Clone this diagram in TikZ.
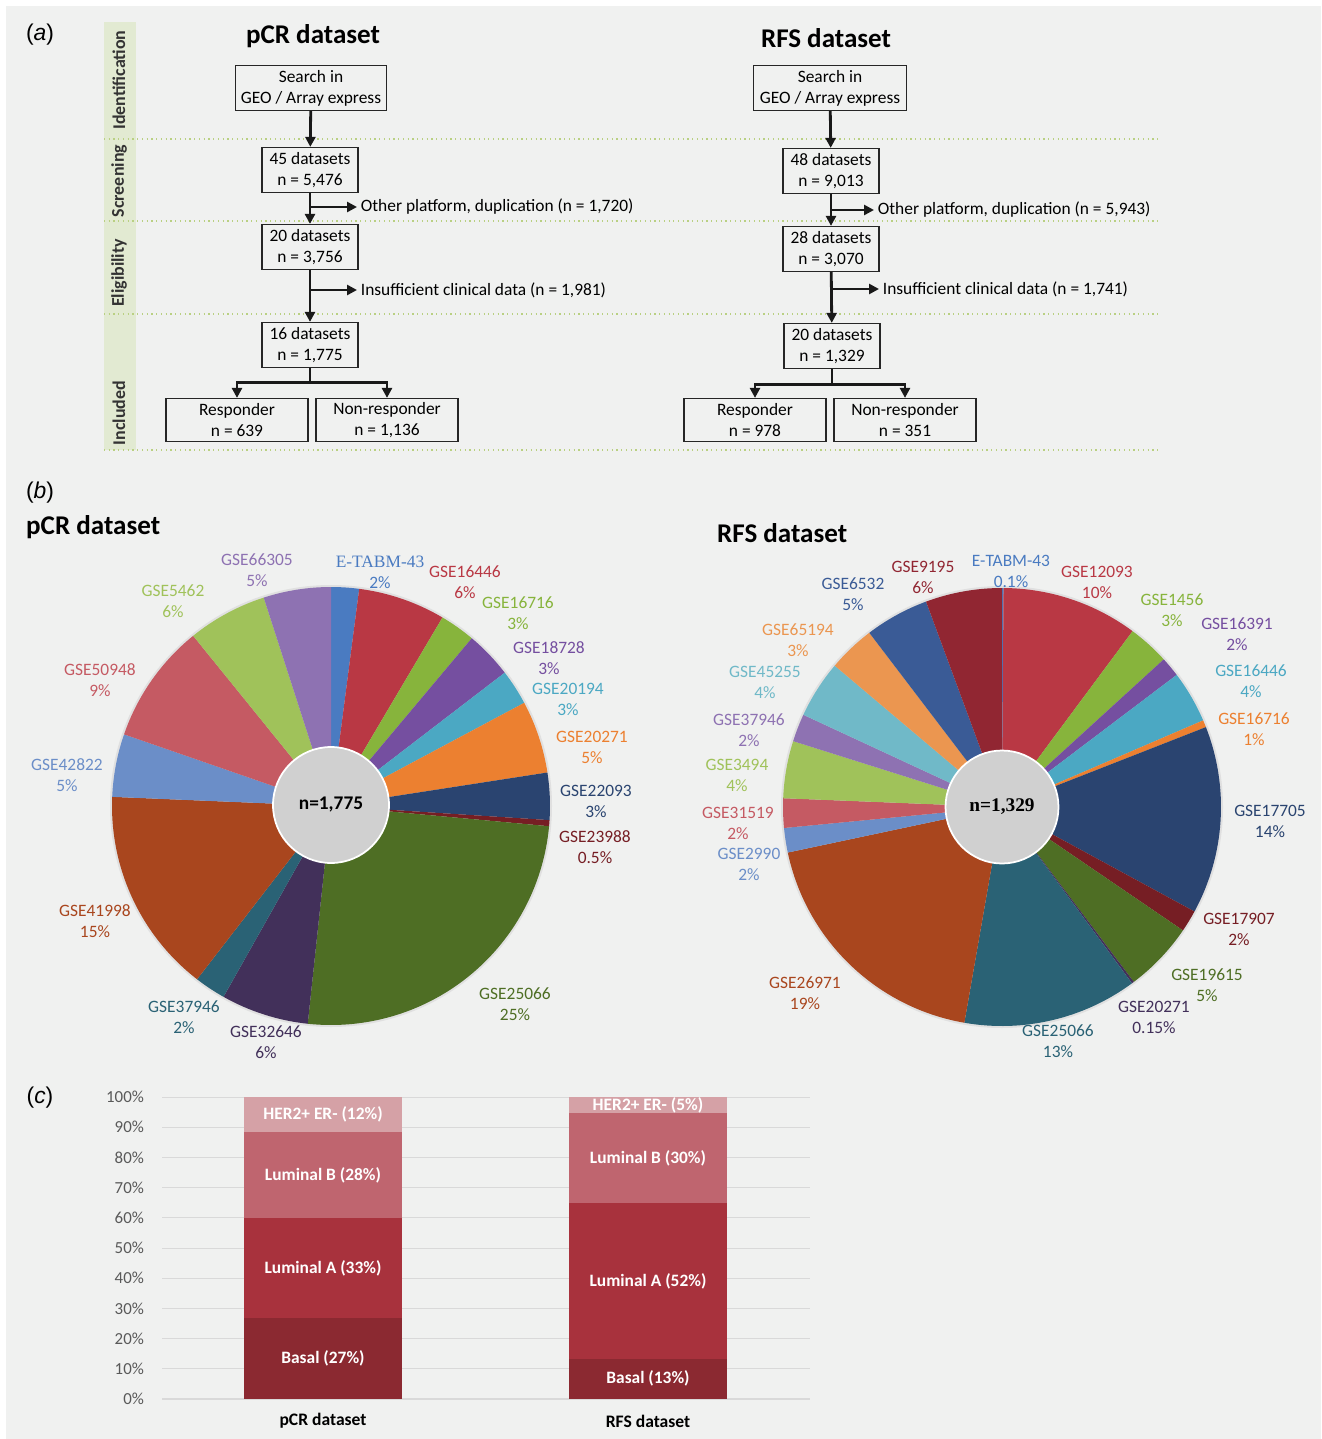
\documentclass[tikz,border=0pt]{standalone}
\usepackage{fontspec}
\setmainfont{Carlito}
\newfontfamily\arialfont{Liberation Sans}
\newfontfamily\timesfont{Liberation Serif}
\usetikzlibrary{arrows.meta, positioning}

\definecolor{bggray}{RGB}{240,241,240}
\definecolor{bandgreen}{RGB}{226,234,210}
\definecolor{dotgreen}{RGB}{185,208,130}
\definecolor{hubgray}{RGB}{208,208,208}
\definecolor{gridgray}{RGB}{217,217,217}
\definecolor{tickgray}{RGB}{89,89,89}
% slice colours
\definecolor{cBlue}{RGB}{74,123,193}
\definecolor{cRed}{RGB}{185,56,68}
\definecolor{cGreen}{RGB}{135,180,60}
\definecolor{cPurple}{RGB}{117,79,160}
\definecolor{cTeal}{RGB}{75,168,195}
\definecolor{cOrange}{RGB}{236,128,48}
\definecolor{cNavy}{RGB}{42,68,112}
\definecolor{cDRed}{RGB}{118,30,36}
\definecolor{cDGreen}{RGB}{78,110,36}
\definecolor{cDPurple}{RGB}{66,48,90}
\definecolor{cDTeal}{RGB}{42,98,117}
\definecolor{cBrown}{RGB}{169,70,30}
\definecolor{cMBlue}{RGB}{107,142,200}
\definecolor{cPink}{RGB}{197,90,99}
\definecolor{cLGreen}{RGB}{160,194,90}
\definecolor{cLav}{RGB}{142,114,178}
\definecolor{cLTeal}{RGB}{112,185,200}
\definecolor{cLOrange}{RGB}{235,150,80}
\definecolor{cSBlue}{RGB}{58,91,150}
\definecolor{cWine}{RGB}{145,38,50}
% subtype colours
\definecolor{cBasal}{RGB}{139,41,49}
\definecolor{cLumA}{RGB}{168,50,61}
\definecolor{cLumB}{RGB}{191,101,111}
\definecolor{cHer}{RGB}{213,161,166}

\begin{document}
\begin{tikzpicture}[
    x=0.02cm, y=-0.02cm,
    box/.style={draw=black!85, line width=0.7pt, rectangle, align=center, minimum height=0.9cm, minimum width=1.92cm, inner sep=0pt, font=\fontsize{9.9}{11.9}\selectfont},
    widebox/.style={box, minimum width=3.02cm},
    endbox/.style={box, minimum width=2.84cm, minimum height=0.86cm},
    exclnote/.style={anchor=west, inner sep=2pt, font=\fontsize{9.9}{11.9}\selectfont},
    arrow/.style={-{Triangle[length=0.2cm, width=0.2cm]}, line width=1.6pt, draw=black!90},
    phase/.style={rotate=90, text=black!80, font=\fontsize{10.2}{12}\selectfont\bfseries},
    title/.style={font=\fontsize{15.4}{18}\selectfont\bfseries},
    panel/.style={font=\arialfont\fontsize{13}{15}\selectfont},
    pielbl/.style={align=center, font=\fontsize{9.9}{12}\selectfont},
    hub/.style={circle, fill=hubgray, draw=white, line width=1pt, inner sep=0pt, font=\fontsize{11}{13}\selectfont\bfseries},
    gridline/.style={draw=gridgray, line width=0.6pt},
    ticklbl/.style={anchor=east, inner sep=1pt, text=tickgray, font=\fontsize{9.6}{11}\selectfont},
    seglbl/.style={text=white, font=\fontsize{9.9}{11}\selectfont\bfseries},
    axislbl/.style={font=\fontsize{10}{12}\selectfont\bfseries}
]

% Background
\useasboundingbox (0,0) rectangle (1321,1439);
\fill[white] (0,0) rectangle (1321,1439);
\fill[bggray] (6,6) rectangle (1321,1439);

% ---------------- (a) flow charts ----------------
\node (pa) [panel] at (40,35) {(\textit{a})};

% Phase band
\fill[bandgreen] (104,22) rectangle (136,450);
\foreach \yy in {139,221,314,450}
  \draw[dotgreen, dotted, line width=0.7pt] (104,\yy) -- (1160,\yy);
\node (ph1) [phase] at (119,80) {Identification};
\node (ph2) [phase] at (119,181) {Screening};
\node (ph3) [phase] at (119,273) {Eligibility};
\node (ph4) [phase] at (119,413) {Included};

% pCR nodes
\node (ttl1) [title] at (313,36) {pCR dataset};
\node (srch1) [widebox] at (311,88) {Search in\\GEO / Array express};
\node (ds1a) [box] at (310,170) {45 datasets\\n = 5,476};
\node (ds1b) [box] at (310,247) {20 datasets\\n = 3,756};
\node (ds1c) [box] at (310,345) {16 datasets\\n = 1,775};
\node (resp1) [endbox] at (237,420) {Responder\\n = 639};
\node (nonr1) [endbox] at (387,420) {Non-responder\\n = 1,136};
\node (ex1a) [exclnote] at (357,207) {Other platform, duplication (n = 1,720)};
\node (ex1b) [exclnote] at (357,290) {Insufficient clinical data (n = 1,981)};

% RFS nodes
\node (ttl2) [title] at (826,38) {RFS dataset};
\node (srch2) [widebox, minimum width=3.06cm] at (830,88) {Search in\\GEO / Array express};
\node (ds2a) [box] at (831,171) {48 datasets\\n = 9,013};
\node (ds2b) [box] at (831,249) {28 datasets\\n = 3,070};
\node (ds2c) [box] at (832,346) {20 datasets\\n = 1,329};
\node (resp2) [endbox] at (755,420) {Responder\\n = 978};
\node (nonr2) [endbox] at (905,420) {Non-responder\\n = 351};
\node (ex2a) [exclnote] at (874,210) {Other platform, duplication (n = 5,943)};
\node (ex2b) [exclnote] at (879,289) {Insufficient clinical data (n = 1,741)};

% Connections
\draw [arrow] (srch1) -- (ds1a);
\draw [arrow] (ds1a) -- (ds1b);
\draw [arrow] (ds1a.south |- ex1a.west) -- (ex1a.west);
\draw [arrow] (ds1b) -- (ds1c);
\draw [arrow] (ds1b.south |- ex1b.west) -- (ex1b.west);
\draw [arrow] (ds1c.south) -- ++(0,14) -| (resp1.north);
\draw [arrow] (ds1c.south) -- ++(0,14) -| (nonr1.north);

\draw [arrow] (srch2) -- (ds2a);
\draw [arrow] (ds2a) -- (ds2b);
\draw [arrow] (ds2a.south |- ex2a.west) -- (ex2a.west);
\draw [arrow] (ds2b) -- (ds2c);
\draw [arrow] (ds2b.south |- ex2b.west) -- (ex2b.west);
\draw [arrow] (ds2c.south) -- ++(0,15) -| (resp2.north);
\draw [arrow] (ds2c.south) -- ++(0,15) -| (nonr2.north);

% ---------------- (b) pie charts ----------------
\node (pb) [panel] at (40,493) {(\textit{b})};
\node (ttl3) [title, anchor=west] at (20,527) {pCR dataset};
\node (ttl4) [title, anchor=west] at (711,533) {RFS dataset};

% pCR pie
\begin{scope}[shift={(331,806)}, y=0.02cm]
  \fill[black!12] (0,0) circle (221);
  \foreach \a/\b/\c in {90/82.6/cBlue, 82.6/59.4/cRed, 59.4/50/cGreen, 50/37.5/cPurple,
      37.5/28.1/cTeal, 28.1/8.8/cOrange, 8.8/-3.7/cNavy, -3.7/-5.3/cDRed,
      -5.3/-96.1/cDGreen, -96.1/-119.4/cDPurple, -119.4/-127.7/cDTeal,
      -127.7/-182.4/cBrown, -182.4/-199.1/cMBlue, -199.1/-231/cPink,
      -231/-252.1/cLGreen, -252.1/-270/cLav}
    \fill[\c] (0,0) -- (\a:219) arc[start angle=\a, end angle=\b, radius=219] -- cycle;
\end{scope}
\node (hub1) [hub, minimum size=2.32cm] at (331,805) {n=1,775};

\node (lpetabm) [pielbl, text=cBlue] at (380,572) {{\timesfont E-TABM-43}\\2\%};
\foreach \n/\p/\x/\y/\c in {66305/5/257/570/cLav, 16446/6/465/582/cRed,
    16716/3/518/613/cGreen, 18728/3/549/658/cPurple, 20194/3/568/699/cTeal,
    20271/5/592/747/cOrange, 22093/3/596/801/cNavy, 23988/0.5/595/847/cDRed,
    25066/25/515/1004/cDGreen, 32646/6/266/1042/cDPurple, 37946/2/184/1017/cDTeal,
    41998/15/95/921/cBrown, 42822/5/67/775/cMBlue, 50948/9/100/680/cPink,
    5462/6/173/601/cLGreen}
  \node (lp\n) [pielbl, text=\c] at (\x,\y) {GSE\n\\\p\%};

% RFS pie
\begin{scope}[shift={(1002,807)}, y=0.02cm]
  \fill[black!12] (0,0) circle (221);
  \foreach \a/\b/\c in {90/89.6/cBlue, 89.6/53.4/cRed, 53.4/42.4/cGreen, 42.4/37.1/cPurple,
      37.1/23.3/cTeal, 23.3/21.4/cOrange, 21.4/-28.5/cNavy, -28.5/-34.3/cDRed,
      -34.3/-53/cDGreen, -53/-53.6/cDPurple, -53.6/-99.9/cDTeal,
      -99.9/-168/cBrown, -168/-174.5/cMBlue, -174.5/-182.3/cPink,
      -182.3/-197.5/cLGreen, -197.5/-204.9/cLav, -204.9/-220.2/cLTeal,
      -220.2/-232.7/cLOrange, -232.7/-249.7/cSBlue, -249.7/-270/cWine}
    \fill[\c] (0,0) -- (\a:219) arc[start angle=\a, end angle=\b, radius=219] -- cycle;
\end{scope}
\node (hub2) [hub, minimum size=2.26cm, font=\timesfont\fontsize{11}{13}\selectfont\bfseries] at (1002,807) {n=1,329};

\node (lretabm) [pielbl, text=cBlue] at (1011,571) {E-TABM-43\\0.1\%};
\foreach \n/\p/\x/\y/\c in {9195/6/923/577/cWine, 12093/10/1097/582/cRed,
    1456/3/1172/610/cGreen, 16391/2/1237/634/cPurple, 16446/4/1251/681/cTeal,
    16716/1/1254/729/cOrange, 17705/14/1270/821/cNavy, 17907/2/1239/929/cDRed,
    19615/5/1207/985/cDGreen, 20271/0.15/1154/1017/cDPurple, 25066/13/1058/1041/cDTeal,
    26971/19/805/993/cBrown, 2990/2/749/864/cMBlue, 31519/2/738/823/cPink,
    3494/4/737/775/cLGreen, 37946/2/749/730/cLav, 45255/4/765/682/cLTeal,
    65194/3/798/640/cLOrange, 6532/5/853/594/cSBlue}
  \node (lr\n) [pielbl, text=\c] at (\x,\y) {GSE\n\\\p\%};

% ---------------- (c) stacked bars ----------------
\node (pc) [panel] at (40,1098) {(\textit{c})};

\begin{scope}[shift={(0,1399)}, y=0.0604cm]
  \foreach \k in {0,10,...,100} {
    \draw[gridline] (162,\k) -- (810,\k);
    \node (tk\k) [ticklbl] at (146,\k) {\k\%};
  }
  % pCR bar
  \fill[cBasal] (244,0) rectangle (402,26.9);
  \fill[cLumA] (244,26.9) rectangle (402,59.8);
  \fill[cLumB] (244,59.8) rectangle (402,88.4);
  \fill[cHer] (244,88.4) rectangle (402,100);
  \node (s1a) [seglbl] at (323,13.5) {Basal (27\%)};
  \node (s1b) [seglbl] at (323,43.4) {Luminal A (33\%)};
  \node (s1c) [seglbl] at (323,74.1) {Luminal B (28\%)};
  \node (s1d) [seglbl] at (323,94.2) {HER2+ ER- (12\%)};
  % RFS bar
  \fill[cBasal] (569,0) rectangle (727,13.3);
  \fill[cLumA] (569,13.3) rectangle (727,64.8);
  \fill[cLumB] (569,64.8) rectangle (727,94.8);
  \fill[cHer] (569,94.8) rectangle (727,100);
  \node (s2a) [seglbl] at (648,6.7) {Basal (13\%)};
  \node (s2b) [seglbl] at (648,39) {Luminal A (52\%)};
  \node (s2c) [seglbl] at (648,79.8) {Luminal B (30\%)};
  \node (s2d) [seglbl] at (648,97.4) {HER2+ ER- (5\%)};
\end{scope}
\node (xl1) [axislbl] at (323,1421) {pCR dataset};
\node (xl2) [axislbl] at (648,1421) {RFS dataset};

\end{tikzpicture}
\end{document}
